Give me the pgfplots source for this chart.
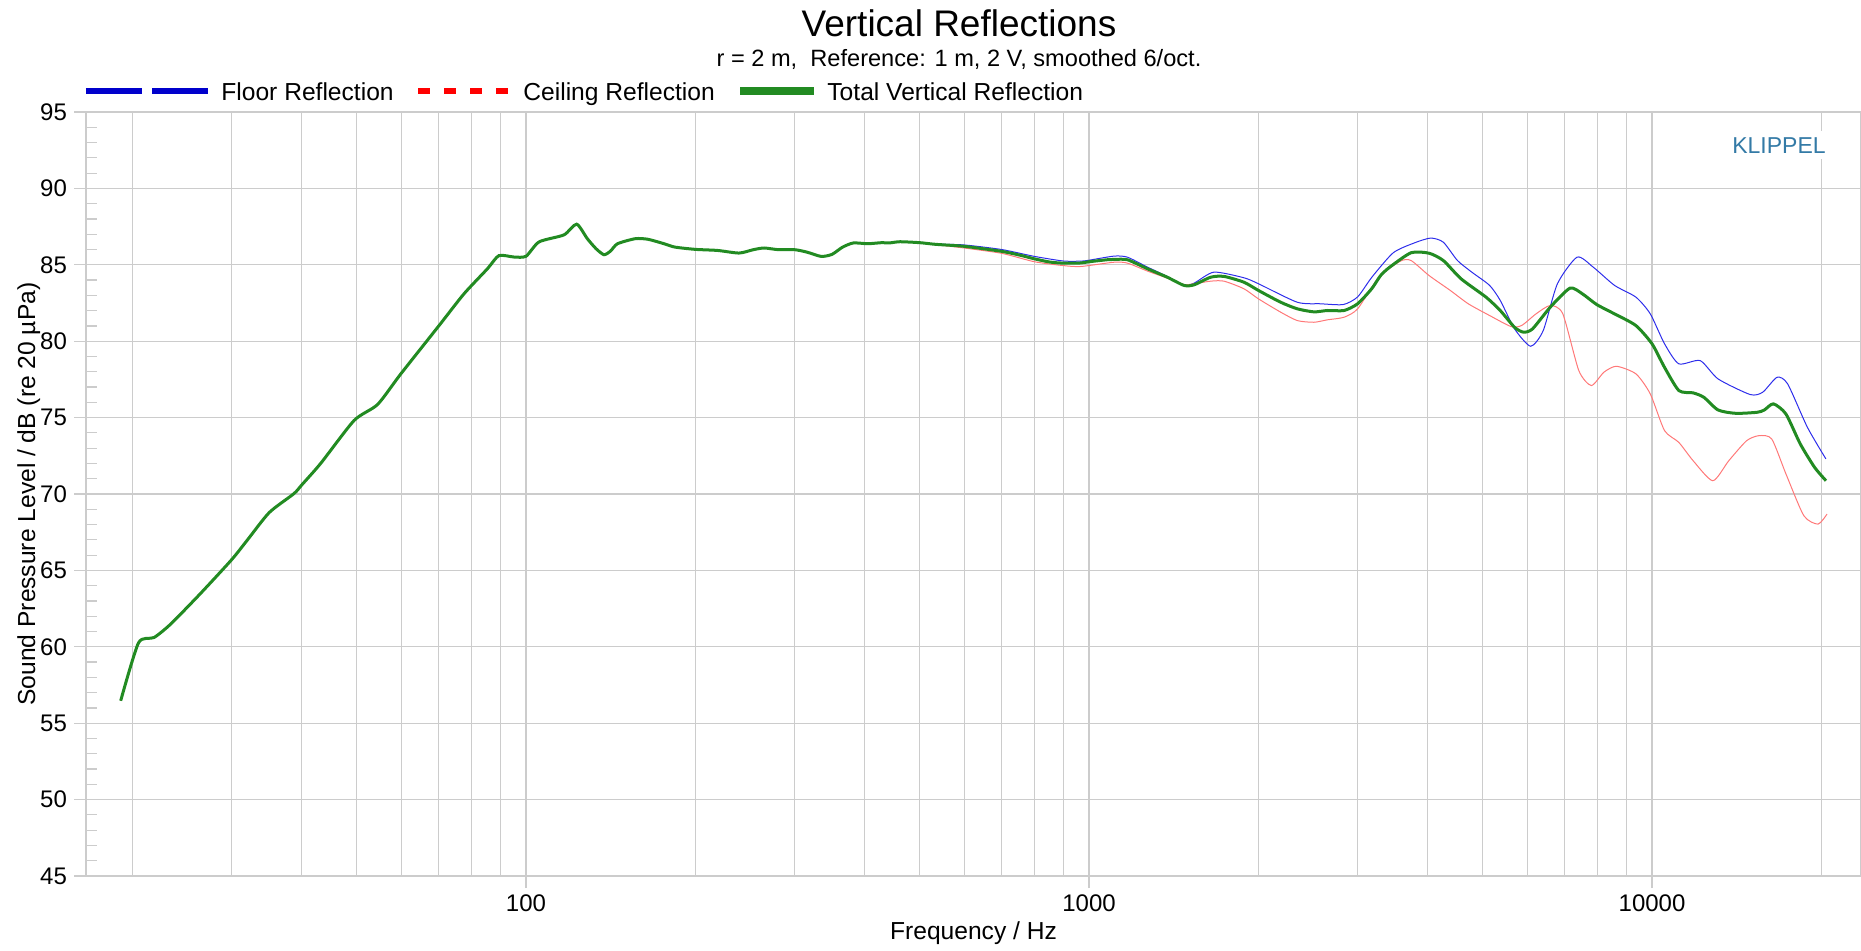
\documentclass[border=0pt]{standalone}
\usepackage{fontspec}
\setmainfont{Liberation Sans}
\usepackage{pgfplots}
\usepackage{pgfplotstable}
\pgfplotsset{compat=1.18}
\definecolor{gridgray}{RGB}{204,204,204}
\definecolor{floorblue}{RGB}{0,0,204}
\definecolor{floorline}{RGB}{45,45,235}
\definecolor{ceilred}{RGB}{255,0,0}
\definecolor{ceilline}{RGB}{255,120,120}
\definecolor{totgreen}{RGB}{34,139,34}
\definecolor{klippel}{RGB}{51,122,166}

\pgfplotstableread{
f db
19.06 56.47
20.5 60.26
21.85 60.61
23.4 61.5
26.4 63.48
30 65.7
32 66.99
35 68.79
38.7 70.02
40 70.61
43.2 72.01
49.5 74.81
54.5 75.86
59.9 77.85
70 81.0
77.6 83.1
85.4 84.74
89.5 85.6
95.2 85.51
100 85.56
105.5 86.5
116.8 86.96
123 87.66
128.5 86.71
133.2 86.05
137.6 85.66
141.3 85.9
145.4 86.38
156.4 86.71
164.7 86.67
175.9 86.38
183.8 86.16
200 86.01
218.9 85.94
239 85.77
253.4 85.99
264.8 86.1
280.7 85.99
300 85.99
315.5 85.83
334.4 85.55
349.4 85.68
365.2 86.16
381.5 86.43
404.6 86.38
428.7 86.45
441.6 86.43
461.3 86.51
500 86.45
533.9 86.34
600 86.21
700 85.88
758 85.61
800 85.39
852 85.18
900 85.11
967 85.12
1000 85.2
1076 85.33
1108 85.35
1170 85.33
1270 84.74
1377 84.19
1475 83.65
1537 83.69
1645 84.19
1737 84.24
1885 83.86
2000 83.32
2190 82.55
2344 82.12
2509 81.92
2651 82.01
2838 82.01
3000 82.45
3177 83.43
3296 84.3
3422 84.85
3733 85.79
4016 85.76
4259 85.28
4581 84.08
5073 82.88
5378 82.0
5703 80.9
5916 80.59
6136 80.81
6597 82.23
7149 83.47
7522 83.1
7977 82.4
8577 81.79
9357 81.03
10000 79.83
10520 78.3
11160 76.77
11830 76.62
12360 76.33
13100 75.5
14090 75.28
15380 75.35
15830 75.5
16430 75.9
17290 75.24
18340 73.27
19440 71.75
20370 70.87
}\totaltab

\pgfplotstableread{
f db
19.06 56.47
20.5 60.26
21.85 60.61
23.4 61.5
26.4 63.48
30 65.7
32 66.99
35 68.79
38.7 70.02
40 70.61
43.2 72.01
49.5 74.81
54.5 75.86
59.9 77.85
70 81.0
77.6 83.1
85.4 84.74
89.5 85.6
95.2 85.51
100 85.56
105.5 86.5
116.8 86.96
123 87.66
128.5 86.71
133.2 86.05
137.6 85.66
141.3 85.9
145.4 86.38
156.4 86.71
164.7 86.67
175.9 86.38
183.8 86.16
200 86.01
218.9 85.94
239 85.77
253.4 85.99
264.8 86.1
280.7 85.99
300 85.99
315.5 85.83
334.4 85.55
349.4 85.68
365.2 86.16
381.5 86.43
404.6 86.38
428.7 86.45
441.6 86.43
461.3 86.51
500 86.45
533.9 86.36
600 86.3
700 86.0
800 85.55
900 85.25
967 85.24
1000 85.3
1108 85.57
1170 85.5
1270 84.85
1377 84.24
1475 83.65
1537 83.8
1667 84.52
1885 84.15
2000 83.76
2344 82.55
2579 82.45
2829 82.4
3000 82.9
3180 84.19
3471 85.79
3788 86.44
4046 86.75
4259 86.48
4513 85.28
4785 84.52
5147 83.65
5377 82.66
5702 80.8
6087 79.67
6409 80.7
6792 83.76
7361 85.5
7861 84.85
8581 83.65
9365 82.88
9929 81.79
10525 79.83
11157 78.52
12176 78.73
13103 77.53
14939 76.51
15723 76.66
16675 77.64
17418 77.2
18877 74.37
20360 72.3
}\floortab

\pgfplotstableread{
f db
19.06 56.47
20.5 60.26
21.85 60.61
23.4 61.5
26.4 63.48
30 65.7
32 66.99
35 68.79
38.7 70.02
40 70.61
43.2 72.01
49.5 74.81
54.5 75.86
59.9 77.85
70 81.0
77.6 83.1
85.4 84.74
89.5 85.6
95.2 85.51
100 85.56
105.5 86.5
116.8 86.96
123 87.66
128.5 86.71
133.2 86.05
137.6 85.66
141.3 85.9
145.4 86.38
156.4 86.71
164.7 86.67
175.9 86.38
183.8 86.16
200 86.01
218.9 85.94
239 85.77
253.4 85.99
264.8 86.1
280.7 85.99
300 85.99
315.5 85.83
334.4 85.55
349.4 85.68
365.2 86.16
381.5 86.43
404.6 86.38
428.7 86.45
441.6 86.43
461.3 86.51
500 86.45
533.9 86.32
600 86.1
700 85.75
800 85.2
900 84.95
967 84.89
1108 85.17
1170 85.11
1270 84.59
1377 84.13
1475 83.71
1537 83.76
1645 83.93
1737 83.93
1885 83.43
2000 82.77
2190 81.9
2344 81.35
2509 81.24
2651 81.4
2838 81.57
3000 82.12
3273 84.19
3573 85.24
3733 85.28
4017 84.3
4383 83.32
4716 82.45
5147 81.68
5617 80.96
5868 81.03
6223 81.79
6597 82.34
6943 81.79
7413 78.08
7804 77.1
8213 77.97
8644 78.36
9365 77.86
9929 76.55
10525 74.15
11157 73.38
11830 72.18
12823 70.87
13689 72.18
14724 73.49
15497 73.82
16318 73.6
17295 71.31
18606 68.58
19724 68.03
20457 68.69
}\ceiltab

\begin{document}
\begin{tikzpicture}
\begin{axis}[
  scale only axis, width=887.5pt, height=382pt,
  at={(0pt,0pt)}, anchor=south west,
  xmode=log, xmin=16.54, xmax=23508, ymin=45, ymax=95,
  xtick={100,1000,10000}, xticklabels={100,1000,10000},
  minor xtick={20,30,40,50,60,70,80,90,200,300,400,500,600,700,800,900,2000,3000,4000,5000,6000,7000,8000,9000,20000},
  ytick={45,50,...,95},
  xmajorgrids, xminorgrids, ymajorgrids,
  major grid style={gridgray, line width=0.6pt},
  minor grid style={gridgray, line width=0.5pt},
  axis line style={gridgray, line width=1.2pt},
  tick align=outside, major tick length=6pt, minor tick length=0pt,
  tick style={gridgray, line width=0.6pt},
  xtick pos=bottom, ytick pos=left,
  /pgf/number format/assume math mode=true,
  ticklabel style={font=\fontsize{12}{14}\selectfont, text=black},
  xlabel={Frequency / Hz},
  ylabel={Sound Pressure Level / dB (re 20 µPa)},
  label style={font=\fontsize{12.3}{14}\selectfont},
  xlabel style={at={([yshift=-31.9pt]rel axis cs:0.5,0)}, anchor=base},
  ylabel style={at={([xshift=-25.5pt]rel axis cs:0,0.5)}, anchor=base},
  clip=true,
]
\addplot[floorline, line width=0.5pt, smooth, tension=0.4] table[x=f, y=db] {\floortab};
\addplot[ceilline, line width=0.5pt, smooth, tension=0.4] table[x=f, y=db] {\ceiltab};
\addplot[totgreen, line width=1.5pt, smooth, tension=0.4] table[x=f, y=db] {\totaltab};
\end{axis}
% minor y ticks (inside)
\foreach \k in {0,...,9}{\foreach \j in {1,...,4}{
  \draw[gridgray, line width=0.6pt] (0pt,{(5*\k+\j)*7.64pt}) -- ++(5.5pt,0pt);
}}
% title and subtitle
\node[anchor=base, font=\fontsize{18.5}{22}\selectfont] at (436.5pt,419.6pt) {Vertical Reflections};
\node[anchor=base, font=\fontsize{11.8}{14}\selectfont] at (436.5pt,404.6pt) {r = 2 m,\ \ Reference: 1 m, 2 V, smoothed 6/oct.};
% legend
\draw[floorblue, line width=3pt, dash pattern=on 28pt off 5pt] (0pt,392.75pt) -- (61pt,392.75pt);
\node[anchor=base west, inner sep=0pt, font=\fontsize{12.3}{14}\selectfont] at (67.5pt,388pt) {Floor Reflection};
\draw[ceilred, line width=3pt, dash pattern=on 6pt off 7pt] (166.1pt,392.75pt) -- (212.5pt,392.75pt);
\node[anchor=base west, inner sep=0pt, font=\fontsize{12.3}{14}\selectfont] at (218.5pt,388pt) {Ceiling Reflection};
\draw[totgreen, line width=4pt] (327.2pt,392.75pt) -- (364pt,392.75pt);
\node[anchor=base west, inner sep=0pt, font=\fontsize{12.3}{14}\selectfont] at (370.5pt,388pt) {Total Vertical Reflection};
% watermark
\node[anchor=base, fill=white, inner xsep=1pt, inner ysep=3pt, text=klippel, font=\fontsize{11.5}{13}\selectfont] at (846.5pt,361.5pt) {KLIPPEL};
\pgfresetboundingbox
\useasboundingbox (-43pt,-37pt) rectangle (887.5pt,438pt);
\end{tikzpicture}
\end{document}
